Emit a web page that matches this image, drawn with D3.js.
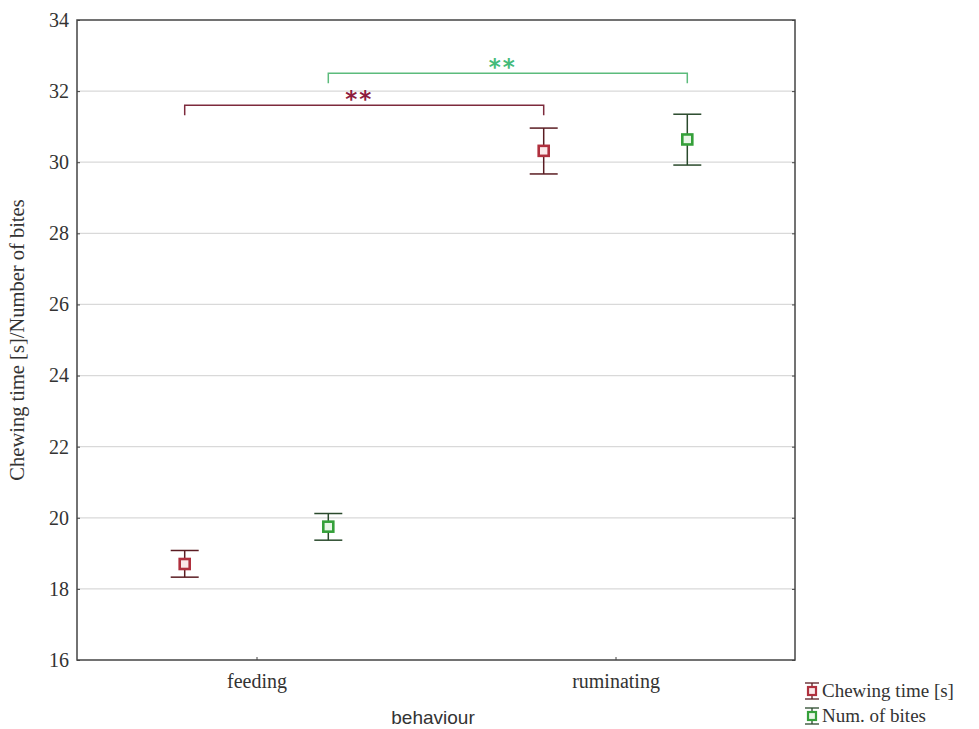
<!DOCTYPE html>
<html><head><meta charset="utf-8">
<script src="https://cdn.jsdelivr.net/npm/d3@7"></script>
<style>body{margin:0;background:#fff}</style>
</head><body>
<svg id="c" width="979" height="729"></svg>
<script>
const categories = ["feeding", "ruminating"];
const seriesNames = ["Chewing time [s]", "Num. of bites"];
const chewMean = [18.70, 30.32];
const chewLow = [18.33, 29.67];
const chewHigh = [19.08, 30.96];
const bitesMean = [19.75, 30.64];
const bitesLow = [19.37, 29.92];
const bitesHigh = [20.12, 31.35];
const yTicks = [16, 18, 20, 22, 24, 26, 28, 30, 32, 34];
const sigBrackets = [
  {from: [0, 0], to: [1, 0], level: 31.6, label: "**"},
  {from: [0, 1], to: [1, 1], level: 32.5, label: "**"}
];

const series = [
  {name: seriesNames[0], mean: chewMean, lo: chewLow, hi: chewHigh, offset: -0.2,
   mark: "#b0303e", fill: "#fbe9ea", bar: "#5a1c22", sig: "#7d2a3c", star: "#8e1c3e"},
  {name: seriesNames[1], mean: bitesMean, lo: bitesLow, hi: bitesHigh, offset: 0.2,
   mark: "#35a03a", fill: "#e8f6e8", bar: "#2a4a2c", sig: "#5cbb7c", star: "#45bb7a"}
];

const svg = d3.select("#c");
const L = 77, R = 795, T = 20, B = 660;
const x = d3.scaleLinear().domain([0.5, 2.5]).range([L, R]);
const y = d3.scaleLinear().domain([16, 34]).range([B, T]);

// gridlines
svg.append("g").selectAll("line").data(yTicks.slice(1, -1)).join("line")
  .attr("x1", L).attr("x2", R).attr("y1", d => y(d)).attr("y2", d => y(d))
  .attr("stroke", "#d9d9d9").attr("stroke-width", 1.2);

// y axis
const yAx = svg.append("g").attr("transform", `translate(${L},0)`)
  .call(d3.axisLeft(y).tickValues(yTicks).tickSize(-3).tickPadding(8).tickFormat(d3.format("d")));
yAx.select(".domain").remove();
yAx.selectAll("line").attr("stroke", "#444");
yAx.selectAll("text").attr("font-family", "Liberation Serif, serif").attr("font-size", 20).attr("fill", "#333");

// right ticks
svg.append("g").attr("transform", `translate(${R},0)`)
  .call(d3.axisRight(y).tickValues(yTicks).tickSize(-3).tickFormat(""))
  .call(g => g.select(".domain").remove())
  .selectAll("line").attr("stroke", "#444");

// x axis
const xAx = svg.append("g").attr("transform", `translate(0,${B})`)
  .call(d3.axisBottom(x).tickValues([1, 2]).tickSize(-3).tickPadding(14).tickFormat((d, i) => categories[i]));
xAx.select(".domain").remove();
xAx.selectAll("line").attr("stroke", "#444");
xAx.selectAll("text").attr("font-family", "Liberation Serif, serif").attr("font-size", 20).attr("fill", "#333");

// frame
svg.append("rect").attr("x", L).attr("y", T).attr("width", R - L).attr("height", B - T)
  .attr("fill", "none").attr("stroke", "#444").attr("stroke-width", 1.5);

// axis titles
svg.append("text").attr("transform", `translate(24,${(T + B) / 2}) rotate(-90)`)
  .attr("text-anchor", "middle").attr("font-family", "Liberation Serif, serif")
  .attr("font-size", 20.5).attr("fill", "#333").text("Chewing time [s]/Number of bites");
svg.append("text").attr("x", 433).attr("y", 724).attr("text-anchor", "middle")
  .attr("font-family", "Liberation Sans, Arial, sans-serif").attr("font-size", 19)
  .attr("fill", "#333").text("behaviour");

// significance brackets
sigBrackets.forEach(b => {
  const s = series[b.from[1]];
  const x1 = x(b.from[0] + 1 + series[b.from[1]].offset);
  const x2 = x(b.to[0] + 1 + series[b.to[1]].offset);
  const yl = y(b.level);
  svg.append("path")
    .attr("d", `M${x1},${yl + 10}V${yl}H${x2}V${yl + 10}`)
    .attr("fill", "none").attr("stroke", s.sig).attr("stroke-width", 1.5);
  svg.append("text").attr("x", (x1 + x2) / 2 - 5).attr("y", yl + 2)
    .attr("text-anchor", "middle").attr("font-family", "DejaVu Sans, sans-serif")
    .attr("font-size", 23).attr("fill", s.star).attr("font-weight", "bold")
    .attr("letter-spacing", 2).text(b.label);
});

// error bars + markers
series.forEach(s => {
  const g = svg.append("g");
  categories.forEach((c, i) => {
    const cx = x(i + 1 + s.offset);
    g.append("line").attr("x1", cx).attr("x2", cx).attr("y1", y(s.lo[i])).attr("y2", y(s.hi[i]))
      .attr("stroke", s.bar).attr("stroke-width", 1.5);
    [s.lo[i], s.hi[i]].forEach(v => g.append("line")
      .attr("x1", cx - 14).attr("x2", cx + 14).attr("y1", y(v)).attr("y2", y(v))
      .attr("stroke", s.bar).attr("stroke-width", 1.5));
    g.append("rect").attr("x", cx - 5).attr("y", y(s.mean[i]) - 5).attr("width", 10).attr("height", 10)
      .attr("fill", s.fill).attr("stroke", s.mark).attr("stroke-width", 2.6);
  });
});

// legend
series.forEach((s, i) => {
  const ly = 691 + i * 25;
  const lx = 812;
  const g = svg.append("g");
  g.append("line").attr("x1", lx - 7).attr("x2", lx + 7).attr("y1", ly - 8).attr("y2", ly - 8).attr("stroke", s.bar).attr("stroke-width", 1.3);
  g.append("line").attr("x1", lx - 7).attr("x2", lx + 7).attr("y1", ly + 8).attr("y2", ly + 8).attr("stroke", s.bar).attr("stroke-width", 1.3);
  g.append("line").attr("x1", lx).attr("x2", lx).attr("y1", ly - 8).attr("y2", ly + 8).attr("stroke", s.bar).attr("stroke-width", 1.3);
  g.append("rect").attr("x", lx - 4).attr("y", ly - 4).attr("width", 8).attr("height", 8)
    .attr("fill", s.fill).attr("stroke", s.mark).attr("stroke-width", 2.2);
  g.append("text").attr("x", lx + 10).attr("y", ly + 6).attr("font-family", "Liberation Serif, serif")
    .attr("font-size", 19).attr("fill", "#333").text(s.name);
});
</script>
</body></html>
